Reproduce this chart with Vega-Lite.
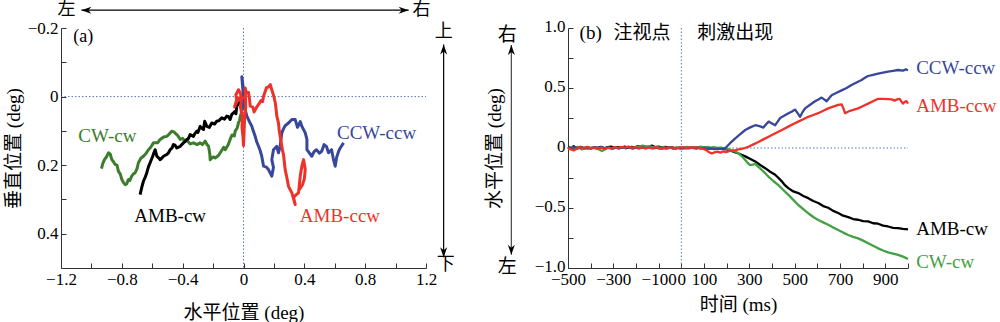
{
"$schema": "https://vega.github.io/schema/vega-lite/v6.json",
"background": "white",
"padding": {"left": 4, "top": 1, "right": 0, "bottom": 0},
"config": {
  "view": {"stroke": null},
  "font": "'Liberation Serif', 'Times New Roman', serif, 'Noto Sans CJK SC'",
  "text": {"font": "'Liberation Serif', 'Times New Roman', serif, 'Noto Sans CJK SC'"},
  "axis": {"grid": false, "labelFont": "'Liberation Serif', 'Times New Roman', serif, 'Noto Sans CJK SC'", "titleFont": "'Liberation Serif', 'Times New Roman', serif, 'Noto Sans CJK SC'", "domainColor": "#333", "tickColor": "#333", "domainWidth": 1, "tickWidth": 1, "tickSize": -5, "labelFontSize": 17, "titleFontSize": 19, "titleFontWeight": "normal", "labelColor": "#000", "titleColor": "#000", "labelOverlap": false, "labelFlush": false, "labelPadding": 8}
},
"resolve": {"scale": {"color": "independent", "shape": "independent"}},
"spacing": 142,
"bounds": "flush",
"datasets": {
  "refA": [{"x": 0, "y": -0.2, "x2": 0, "y2": 0.5}, {"x": -1.2, "y": 0, "x2": 1.2, "y2": 0}],
  "arrowA": [{"x": -1.066, "y": -0.252, "x2": 1.086, "y2": -0.252}, {"x": 1.316, "y": -0.152, "x2": 1.316, "y2": 0.469}],
  "headA": [{"x": -1.066, "y": -0.252, "d": "l"}, {"x": 1.086, "y": -0.252, "d": "r"}, {"x": 1.316, "y": -0.152, "d": "u"}, {"x": 1.316, "y": 0.469, "d": "d"}],
  "txtA": [{"x": -1.053, "y": -0.175, "txt": "(a)"}, {"x": -1.164, "y": -0.252, "txt": "左"}, {"x": 1.17, "y": -0.252, "txt": "右"}, {"x": 1.316, "y": -0.187, "txt": "上"}, {"x": 1.33, "y": 0.49, "txt": "下"}],
  "labA": [{"s": "CW-cw", "x": -0.895, "y": 0.116}, {"s": "CCW-ccw", "x": 0.875, "y": 0.106}, {"s": "AMB-cw", "x": -0.482, "y": 0.349}, {"s": "AMB-ccw", "x": 0.634, "y": 0.349}],
  "trajA": [
    {"s": "CW-cw", "i": 0, "x": 0, "y": 0}, {"s": "CW-cw", "i": 1, "x": -0.006, "y": 0.012}, {"s": "CW-cw", "i": 2, "x": -0.013, "y": 0.023}, {"s": "CW-cw", "i": 3, "x": -0.01, "y": 0.04}, {"s": "CW-cw", "i": 4, "x": -0.022, "y": 0.061}, {"s": "CW-cw", "i": 5, "x": -0.026, "y": 0.07}, {"s": "CW-cw", "i": 6, "x": -0.033, "y": 0.076}, {"s": "CW-cw", "i": 7, "x": -0.04, "y": 0.09}, {"s": "CW-cw", "i": 8, "x": -0.055, "y": 0.101}, {"s": "CW-cw", "i": 9, "x": -0.06, "y": 0.115}, {"s": "CW-cw", "i": 10, "x": -0.075, "y": 0.112}, {"s": "CW-cw", "i": 11, "x": -0.088, "y": 0.125}, {"s": "CW-cw", "i": 12, "x": -0.1, "y": 0.14}, {"s": "CW-cw", "i": 13, "x": -0.12, "y": 0.155}, {"s": "CW-cw", "i": 14, "x": -0.13, "y": 0.148}, {"s": "CW-cw", "i": 15, "x": -0.153, "y": 0.164}, {"s": "CW-cw", "i": 16, "x": -0.165, "y": 0.172}, {"s": "CW-cw", "i": 17, "x": -0.186, "y": 0.179}, {"s": "CW-cw", "i": 18, "x": -0.2, "y": 0.176}, {"s": "CW-cw", "i": 19, "x": -0.219, "y": 0.184}, {"s": "CW-cw", "i": 20, "x": -0.222, "y": 0.165}, {"s": "CW-cw", "i": 21, "x": -0.23, "y": 0.145}, {"s": "CW-cw", "i": 22, "x": -0.24, "y": 0.14}, {"s": "CW-cw", "i": 23, "x": -0.252, "y": 0.13}, {"s": "CW-cw", "i": 24, "x": -0.27, "y": 0.14}, {"s": "CW-cw", "i": 25, "x": -0.285, "y": 0.135}, {"s": "CW-cw", "i": 26, "x": -0.305, "y": 0.14}, {"s": "CW-cw", "i": 27, "x": -0.329, "y": 0.135}, {"s": "CW-cw", "i": 28, "x": -0.35, "y": 0.138}, {"s": "CW-cw", "i": 29, "x": -0.37, "y": 0.128}, {"s": "CW-cw", "i": 30, "x": -0.384, "y": 0.13}, {"s": "CW-cw", "i": 31, "x": -0.4, "y": 0.122}, {"s": "CW-cw", "i": 32, "x": -0.416, "y": 0.125}, {"s": "CW-cw", "i": 33, "x": -0.43, "y": 0.115}, {"s": "CW-cw", "i": 34, "x": -0.439, "y": 0.111}, {"s": "CW-cw", "i": 35, "x": -0.455, "y": 0.104}, {"s": "CW-cw", "i": 36, "x": -0.472, "y": 0.101}, {"s": "CW-cw", "i": 37, "x": -0.49, "y": 0.11}, {"s": "CW-cw", "i": 38, "x": -0.505, "y": 0.116}, {"s": "CW-cw", "i": 39, "x": -0.525, "y": 0.118}, {"s": "CW-cw", "i": 40, "x": -0.548, "y": 0.125}, {"s": "CW-cw", "i": 41, "x": -0.565, "y": 0.135}, {"s": "CW-cw", "i": 42, "x": -0.592, "y": 0.135}, {"s": "CW-cw", "i": 43, "x": -0.61, "y": 0.148}, {"s": "CW-cw", "i": 44, "x": -0.625, "y": 0.155}, {"s": "CW-cw", "i": 45, "x": -0.64, "y": 0.165}, {"s": "CW-cw", "i": 46, "x": -0.658, "y": 0.174}, {"s": "CW-cw", "i": 47, "x": -0.675, "y": 0.18}, {"s": "CW-cw", "i": 48, "x": -0.691, "y": 0.193}, {"s": "CW-cw", "i": 49, "x": -0.7, "y": 0.21}, {"s": "CW-cw", "i": 50, "x": -0.712, "y": 0.222}, {"s": "CW-cw", "i": 51, "x": -0.725, "y": 0.226}, {"s": "CW-cw", "i": 52, "x": -0.735, "y": 0.232}, {"s": "CW-cw", "i": 53, "x": -0.748, "y": 0.245}, {"s": "CW-cw", "i": 54, "x": -0.757, "y": 0.242}, {"s": "CW-cw", "i": 55, "x": -0.768, "y": 0.255}, {"s": "CW-cw", "i": 56, "x": -0.778, "y": 0.257}, {"s": "CW-cw", "i": 57, "x": -0.79, "y": 0.25}, {"s": "CW-cw", "i": 58, "x": -0.8, "y": 0.242}, {"s": "CW-cw", "i": 59, "x": -0.81, "y": 0.226}, {"s": "CW-cw", "i": 60, "x": -0.822, "y": 0.218}, {"s": "CW-cw", "i": 61, "x": -0.832, "y": 0.2}, {"s": "CW-cw", "i": 62, "x": -0.844, "y": 0.198}, {"s": "CW-cw", "i": 63, "x": -0.855, "y": 0.19}, {"s": "CW-cw", "i": 64, "x": -0.866, "y": 0.184}, {"s": "CW-cw", "i": 65, "x": -0.876, "y": 0.168}, {"s": "CW-cw", "i": 66, "x": -0.888, "y": 0.164}, {"s": "CW-cw", "i": 67, "x": -0.9, "y": 0.175}, {"s": "CW-cw", "i": 68, "x": -0.914, "y": 0.184}, {"s": "CW-cw", "i": 69, "x": -0.925, "y": 0.195}, {"s": "CW-cw", "i": 70, "x": -0.934, "y": 0.21},
    {"s": "AMB-cw", "i": 0, "x": 0, "y": 0}, {"s": "AMB-cw", "i": 1, "x": -0.012, "y": 0.01}, {"s": "AMB-cw", "i": 2, "x": -0.026, "y": 0.017}, {"s": "AMB-cw", "i": 3, "x": -0.044, "y": 0.028}, {"s": "AMB-cw", "i": 4, "x": -0.05, "y": 0.05}, {"s": "AMB-cw", "i": 5, "x": -0.055, "y": 0.043}, {"s": "AMB-cw", "i": 6, "x": -0.077, "y": 0.052}, {"s": "AMB-cw", "i": 7, "x": -0.088, "y": 0.067}, {"s": "AMB-cw", "i": 8, "x": -0.1, "y": 0.058}, {"s": "AMB-cw", "i": 9, "x": -0.11, "y": 0.057}, {"s": "AMB-cw", "i": 10, "x": -0.125, "y": 0.066}, {"s": "AMB-cw", "i": 11, "x": -0.143, "y": 0.062}, {"s": "AMB-cw", "i": 12, "x": -0.16, "y": 0.07}, {"s": "AMB-cw", "i": 13, "x": -0.176, "y": 0.072}, {"s": "AMB-cw", "i": 14, "x": -0.19, "y": 0.08}, {"s": "AMB-cw", "i": 15, "x": -0.209, "y": 0.077}, {"s": "AMB-cw", "i": 16, "x": -0.225, "y": 0.09}, {"s": "AMB-cw", "i": 17, "x": -0.241, "y": 0.087}, {"s": "AMB-cw", "i": 18, "x": -0.255, "y": 0.072}, {"s": "AMB-cw", "i": 19, "x": -0.263, "y": 0.096}, {"s": "AMB-cw", "i": 20, "x": -0.275, "y": 0.092}, {"s": "AMB-cw", "i": 21, "x": -0.285, "y": 0.087}, {"s": "AMB-cw", "i": 22, "x": -0.3, "y": 0.105}, {"s": "AMB-cw", "i": 23, "x": -0.307, "y": 0.101}, {"s": "AMB-cw", "i": 24, "x": -0.32, "y": 0.108}, {"s": "AMB-cw", "i": 25, "x": -0.329, "y": 0.116}, {"s": "AMB-cw", "i": 26, "x": -0.351, "y": 0.111}, {"s": "AMB-cw", "i": 27, "x": -0.362, "y": 0.122}, {"s": "AMB-cw", "i": 28, "x": -0.373, "y": 0.125}, {"s": "AMB-cw", "i": 29, "x": -0.385, "y": 0.132}, {"s": "AMB-cw", "i": 30, "x": -0.395, "y": 0.135}, {"s": "AMB-cw", "i": 31, "x": -0.416, "y": 0.145}, {"s": "AMB-cw", "i": 32, "x": -0.439, "y": 0.15}, {"s": "AMB-cw", "i": 33, "x": -0.45, "y": 0.142}, {"s": "AMB-cw", "i": 34, "x": -0.461, "y": 0.14}, {"s": "AMB-cw", "i": 35, "x": -0.47, "y": 0.15}, {"s": "AMB-cw", "i": 36, "x": -0.482, "y": 0.155}, {"s": "AMB-cw", "i": 37, "x": -0.495, "y": 0.165}, {"s": "AMB-cw", "i": 38, "x": -0.505, "y": 0.169}, {"s": "AMB-cw", "i": 39, "x": -0.526, "y": 0.174}, {"s": "AMB-cw", "i": 40, "x": -0.538, "y": 0.18}, {"s": "AMB-cw", "i": 41, "x": -0.548, "y": 0.184}, {"s": "AMB-cw", "i": 42, "x": -0.56, "y": 0.178}, {"s": "AMB-cw", "i": 43, "x": -0.57, "y": 0.174}, {"s": "AMB-cw", "i": 44, "x": -0.581, "y": 0.155}, {"s": "AMB-cw", "i": 45, "x": -0.59, "y": 0.165}, {"s": "AMB-cw", "i": 46, "x": -0.597, "y": 0.174}, {"s": "AMB-cw", "i": 47, "x": -0.614, "y": 0.193}, {"s": "AMB-cw", "i": 48, "x": -0.625, "y": 0.205}, {"s": "AMB-cw", "i": 49, "x": -0.636, "y": 0.222}, {"s": "AMB-cw", "i": 50, "x": -0.646, "y": 0.235}, {"s": "AMB-cw", "i": 51, "x": -0.658, "y": 0.247}, {"s": "AMB-cw", "i": 52, "x": -0.669, "y": 0.265}, {"s": "AMB-cw", "i": 53, "x": -0.68, "y": 0.286},
    {"s": "CCW-ccw", "i": 0, "x": 0, "y": 0}, {"s": "CCW-ccw", "i": 1, "x": -0.007, "y": -0.035}, {"s": "CCW-ccw", "i": 2, "x": -0.011, "y": -0.058}, {"s": "CCW-ccw", "i": 3, "x": 0, "y": -0.02}, {"s": "CCW-ccw", "i": 4, "x": 0.003, "y": 0.01}, {"s": "CCW-ccw", "i": 5, "x": 0, "y": 0.028}, {"s": "CCW-ccw", "i": 6, "x": 0.012, "y": 0.04}, {"s": "CCW-ccw", "i": 7, "x": 0.022, "y": 0.057}, {"s": "CCW-ccw", "i": 8, "x": 0.039, "y": 0.073}, {"s": "CCW-ccw", "i": 9, "x": 0.055, "y": 0.087}, {"s": "CCW-ccw", "i": 10, "x": 0.064, "y": 0.1}, {"s": "CCW-ccw", "i": 11, "x": 0.077, "y": 0.116}, {"s": "CCW-ccw", "i": 12, "x": 0.086, "y": 0.131}, {"s": "CCW-ccw", "i": 13, "x": 0.099, "y": 0.145}, {"s": "CCW-ccw", "i": 14, "x": 0.11, "y": 0.158}, {"s": "CCW-ccw", "i": 15, "x": 0.12, "y": 0.174}, {"s": "CCW-ccw", "i": 16, "x": 0.132, "y": 0.203}, {"s": "CCW-ccw", "i": 17, "x": 0.148, "y": 0.205}, {"s": "CCW-ccw", "i": 18, "x": 0.164, "y": 0.213}, {"s": "CCW-ccw", "i": 19, "x": 0.186, "y": 0.232}, {"s": "CCW-ccw", "i": 20, "x": 0.197, "y": 0.207}, {"s": "CCW-ccw", "i": 21, "x": 0.186, "y": 0.184}, {"s": "CCW-ccw", "i": 22, "x": 0.197, "y": 0.155}, {"s": "CCW-ccw", "i": 23, "x": 0.219, "y": 0.145}, {"s": "CCW-ccw", "i": 24, "x": 0.23, "y": 0.164}, {"s": "CCW-ccw", "i": 25, "x": 0.241, "y": 0.145}, {"s": "CCW-ccw", "i": 26, "x": 0.252, "y": 0.106}, {"s": "CCW-ccw", "i": 27, "x": 0.262, "y": 0.095}, {"s": "CCW-ccw", "i": 28, "x": 0.274, "y": 0.085}, {"s": "CCW-ccw", "i": 29, "x": 0.296, "y": 0.077}, {"s": "CCW-ccw", "i": 30, "x": 0.318, "y": 0.067}, {"s": "CCW-ccw", "i": 31, "x": 0.34, "y": 0.067}, {"s": "CCW-ccw", "i": 32, "x": 0.355, "y": 0.09}, {"s": "CCW-ccw", "i": 33, "x": 0.373, "y": 0.073}, {"s": "CCW-ccw", "i": 34, "x": 0.384, "y": 0.087}, {"s": "CCW-ccw", "i": 35, "x": 0.406, "y": 0.106}, {"s": "CCW-ccw", "i": 36, "x": 0.417, "y": 0.125}, {"s": "CCW-ccw", "i": 37, "x": 0.417, "y": 0.155}, {"s": "CCW-ccw", "i": 38, "x": 0.449, "y": 0.174}, {"s": "CCW-ccw", "i": 39, "x": 0.465, "y": 0.16}, {"s": "CCW-ccw", "i": 40, "x": 0.48, "y": 0.155}, {"s": "CCW-ccw", "i": 41, "x": 0.5, "y": 0.165}, {"s": "CCW-ccw", "i": 42, "x": 0.515, "y": 0.159}, {"s": "CCW-ccw", "i": 43, "x": 0.53, "y": 0.14}, {"s": "CCW-ccw", "i": 44, "x": 0.546, "y": 0.146}, {"s": "CCW-ccw", "i": 45, "x": 0.559, "y": 0.164}, {"s": "CCW-ccw", "i": 46, "x": 0.579, "y": 0.155}, {"s": "CCW-ccw", "i": 47, "x": 0.59, "y": 0.18}, {"s": "CCW-ccw", "i": 48, "x": 0.603, "y": 0.203}, {"s": "CCW-ccw", "i": 49, "x": 0.612, "y": 0.178}, {"s": "CCW-ccw", "i": 50, "x": 0.625, "y": 0.16}, {"s": "CCW-ccw", "i": 51, "x": 0.636, "y": 0.15}, {"s": "CCW-ccw", "i": 52, "x": 0.658, "y": 0.135},
    {"s": "AMB-ccw", "i": 0, "x": 0, "y": 0}, {"s": "AMB-ccw", "i": 1, "x": -0.02, "y": 0.012}, {"s": "AMB-ccw", "i": 2, "x": -0.035, "y": 0.004}, {"s": "AMB-ccw", "i": 3, "x": -0.05, "y": 0.02}, {"s": "AMB-ccw", "i": 4, "x": -0.059, "y": 0.03}, {"s": "AMB-ccw", "i": 5, "x": -0.045, "y": 0.01}, {"s": "AMB-ccw", "i": 6, "x": -0.05, "y": -0.005}, {"s": "AMB-ccw", "i": 7, "x": -0.033, "y": -0.02}, {"s": "AMB-ccw", "i": 8, "x": -0.02, "y": -0.01}, {"s": "AMB-ccw", "i": 9, "x": -0.013, "y": 0.009}, {"s": "AMB-ccw", "i": 10, "x": -0.02, "y": 0.03}, {"s": "AMB-ccw", "i": 11, "x": -0.007, "y": 0.06}, {"s": "AMB-ccw", "i": 12, "x": -0.01, "y": 0.09}, {"s": "AMB-ccw", "i": 13, "x": -0.003, "y": 0.12}, {"s": "AMB-ccw", "i": 14, "x": 0, "y": 0.143}, {"s": "AMB-ccw", "i": 15, "x": 0.004, "y": 0.1}, {"s": "AMB-ccw", "i": 16, "x": 0.007, "y": 0.067}, {"s": "AMB-ccw", "i": 17, "x": 0.015, "y": 0.03}, {"s": "AMB-ccw", "i": 18, "x": 0.011, "y": -0.025}, {"s": "AMB-ccw", "i": 19, "x": 0.02, "y": -0.01}, {"s": "AMB-ccw", "i": 20, "x": 0.033, "y": -0.012}, {"s": "AMB-ccw", "i": 21, "x": 0.04, "y": 0.01}, {"s": "AMB-ccw", "i": 22, "x": 0.044, "y": 0.028}, {"s": "AMB-ccw", "i": 23, "x": 0.06, "y": 0.03}, {"s": "AMB-ccw", "i": 24, "x": 0.07, "y": 0.045}, {"s": "AMB-ccw", "i": 25, "x": 0.077, "y": 0.038}, {"s": "AMB-ccw", "i": 26, "x": 0.088, "y": 0.03}, {"s": "AMB-ccw", "i": 27, "x": 0.099, "y": 0.023}, {"s": "AMB-ccw", "i": 28, "x": 0.115, "y": 0.012}, {"s": "AMB-ccw", "i": 29, "x": 0.125, "y": 0.015}, {"s": "AMB-ccw", "i": 30, "x": 0.132, "y": -0.001}, {"s": "AMB-ccw", "i": 31, "x": 0.151, "y": -0.026}, {"s": "AMB-ccw", "i": 32, "x": 0.165, "y": -0.028}, {"s": "AMB-ccw", "i": 33, "x": 0.176, "y": -0.035}, {"s": "AMB-ccw", "i": 34, "x": 0.186, "y": -0.02}, {"s": "AMB-ccw", "i": 35, "x": 0.2, "y": 0.0}, {"s": "AMB-ccw", "i": 36, "x": 0.209, "y": 0.018}, {"s": "AMB-ccw", "i": 37, "x": 0.215, "y": 0.04}, {"s": "AMB-ccw", "i": 38, "x": 0.219, "y": 0.057}, {"s": "AMB-ccw", "i": 39, "x": 0.23, "y": 0.077}, {"s": "AMB-ccw", "i": 40, "x": 0.235, "y": 0.1}, {"s": "AMB-ccw", "i": 41, "x": 0.241, "y": 0.116}, {"s": "AMB-ccw", "i": 42, "x": 0.252, "y": 0.145}, {"s": "AMB-ccw", "i": 43, "x": 0.258, "y": 0.16}, {"s": "AMB-ccw", "i": 44, "x": 0.263, "y": 0.169}, {"s": "AMB-ccw", "i": 45, "x": 0.274, "y": 0.213}, {"s": "AMB-ccw", "i": 46, "x": 0.285, "y": 0.236}, {"s": "AMB-ccw", "i": 47, "x": 0.296, "y": 0.262}, {"s": "AMB-ccw", "i": 48, "x": 0.305, "y": 0.27}, {"s": "AMB-ccw", "i": 49, "x": 0.318, "y": 0.281}, {"s": "AMB-ccw", "i": 50, "x": 0.33, "y": 0.3}, {"s": "AMB-ccw", "i": 51, "x": 0.34, "y": 0.315}, {"s": "AMB-ccw", "i": 52, "x": 0.329, "y": 0.294}, {"s": "AMB-ccw", "i": 53, "x": 0.35, "y": 0.285}, {"s": "AMB-ccw", "i": 54, "x": 0.362, "y": 0.281}, {"s": "AMB-ccw", "i": 55, "x": 0.373, "y": 0.232}, {"s": "AMB-ccw", "i": 56, "x": 0.385, "y": 0.2}, {"s": "AMB-ccw", "i": 57, "x": 0.395, "y": 0.184}, {"s": "AMB-ccw", "i": 58, "x": 0.406, "y": 0.213}, {"s": "AMB-ccw", "i": 59, "x": 0.4, "y": 0.24}, {"s": "AMB-ccw", "i": 60, "x": 0.388, "y": 0.257}, {"s": "AMB-ccw", "i": 61, "x": 0.368, "y": 0.271}
  ],
  "refB": [{"t": 0, "v": 1, "t2": 0, "v2": -1}, {"t": -500, "v": 0, "t2": 1000, "v2": 0}],
  "arrowB": [{"t": -750, "v": 0.858, "t2": -750, "v2": -0.89}],
  "headB": [{"t": -750, "v": 0.858, "d": "u"}, {"t": -750, "v": -0.89, "d": "d"}],
  "txtB": [{"t": -400, "v": 0.958, "txt": "(b)"}, {"t": -173, "v": 0.958, "txt": "注视点"}, {"t": 238, "v": 0.958, "txt": "刺激出现"}, {"t": -768, "v": 0.94, "txt": "右"}, {"t": -768, "v": -0.99, "txt": "左"}],
  "labB": [{"s": "CCW-ccw", "t": 1036, "v": 0.667}, {"s": "AMB-ccw", "t": 1036, "v": 0.35}, {"s": "AMB-cw", "t": 1036, "v": -0.675}, {"s": "CW-cw", "t": 1036, "v": -0.95}],
  "seriesB": [
    {"s": "AMB-cw", "t": -500, "v": 0.01}, {"s": "AMB-cw", "t": -490, "v": 0.0}, {"s": "AMB-cw", "t": -475, "v": 0.015}, {"s": "AMB-cw", "t": -460, "v": -0.005}, {"s": "AMB-cw", "t": -445, "v": 0.01}, {"s": "AMB-cw", "t": -430, "v": 0.0}, {"s": "AMB-cw", "t": -415, "v": 0.008}, {"s": "AMB-cw", "t": -400, "v": -0.004}, {"s": "AMB-cw", "t": -385, "v": 0.006}, {"s": "AMB-cw", "t": -370, "v": 0.0}, {"s": "AMB-cw", "t": -355, "v": 0.01}, {"s": "AMB-cw", "t": -340, "v": -0.003}, {"s": "AMB-cw", "t": -325, "v": 0.007}, {"s": "AMB-cw", "t": -310, "v": 0.012}, {"s": "AMB-cw", "t": -295, "v": 0.0}, {"s": "AMB-cw", "t": -280, "v": 0.008}, {"s": "AMB-cw", "t": -265, "v": 0.004}, {"s": "AMB-cw", "t": -250, "v": 0.012}, {"s": "AMB-cw", "t": -235, "v": 0.002}, {"s": "AMB-cw", "t": -220, "v": 0.01}, {"s": "AMB-cw", "t": -205, "v": 0.005}, {"s": "AMB-cw", "t": -190, "v": 0.015}, {"s": "AMB-cw", "t": -175, "v": 0.006}, {"s": "AMB-cw", "t": -160, "v": 0.012}, {"s": "AMB-cw", "t": -145, "v": 0.008}, {"s": "AMB-cw", "t": -130, "v": 0.02}, {"s": "AMB-cw", "t": -115, "v": 0.006}, {"s": "AMB-cw", "t": -100, "v": 0.012}, {"s": "AMB-cw", "t": -85, "v": 0.004}, {"s": "AMB-cw", "t": -70, "v": 0.01}, {"s": "AMB-cw", "t": -55, "v": 0.002}, {"s": "AMB-cw", "t": -40, "v": 0.006}, {"s": "AMB-cw", "t": -25, "v": -0.004}, {"s": "AMB-cw", "t": -10, "v": 0.004}, {"s": "AMB-cw", "t": 5, "v": 0.0}, {"s": "AMB-cw", "t": 20, "v": 0.006}, {"s": "AMB-cw", "t": 35, "v": -0.002}, {"s": "AMB-cw", "t": 50, "v": 0.004}, {"s": "AMB-cw", "t": 65, "v": -0.004}, {"s": "AMB-cw", "t": 80, "v": 0.002}, {"s": "AMB-cw", "t": 95, "v": -0.002}, {"s": "AMB-cw", "t": 110, "v": 0.003}, {"s": "AMB-cw", "t": 125, "v": -0.005}, {"s": "AMB-cw", "t": 140, "v": 0.0}, {"s": "AMB-cw", "t": 155, "v": -0.006}, {"s": "AMB-cw", "t": 170, "v": -0.002}, {"s": "AMB-cw", "t": 185, "v": -0.008}, {"s": "AMB-cw", "t": 200, "v": -0.012}, {"s": "AMB-cw", "t": 215, "v": -0.02}, {"s": "AMB-cw", "t": 230, "v": -0.03}, {"s": "AMB-cw", "t": 245, "v": -0.04}, {"s": "AMB-cw", "t": 260, "v": -0.052}, {"s": "AMB-cw", "t": 282, "v": -0.07}, {"s": "AMB-cw", "t": 305, "v": -0.092}, {"s": "AMB-cw", "t": 326, "v": -0.112}, {"s": "AMB-cw", "t": 348, "v": -0.142}, {"s": "AMB-cw", "t": 370, "v": -0.168}, {"s": "AMB-cw", "t": 392, "v": -0.198}, {"s": "AMB-cw", "t": 414, "v": -0.223}, {"s": "AMB-cw", "t": 430, "v": -0.252}, {"s": "AMB-cw", "t": 443, "v": -0.278}, {"s": "AMB-cw", "t": 458, "v": -0.312}, {"s": "AMB-cw", "t": 472, "v": -0.334}, {"s": "AMB-cw", "t": 494, "v": -0.362}, {"s": "AMB-cw", "t": 516, "v": -0.376}, {"s": "AMB-cw", "t": 538, "v": -0.4}, {"s": "AMB-cw", "t": 560, "v": -0.418}, {"s": "AMB-cw", "t": 582, "v": -0.442}, {"s": "AMB-cw", "t": 604, "v": -0.458}, {"s": "AMB-cw", "t": 626, "v": -0.484}, {"s": "AMB-cw", "t": 648, "v": -0.498}, {"s": "AMB-cw", "t": 670, "v": -0.524}, {"s": "AMB-cw", "t": 692, "v": -0.542}, {"s": "AMB-cw", "t": 714, "v": -0.564}, {"s": "AMB-cw", "t": 736, "v": -0.576}, {"s": "AMB-cw", "t": 758, "v": -0.592}, {"s": "AMB-cw", "t": 780, "v": -0.598}, {"s": "AMB-cw", "t": 802, "v": -0.609}, {"s": "AMB-cw", "t": 824, "v": -0.612}, {"s": "AMB-cw", "t": 846, "v": -0.627}, {"s": "AMB-cw", "t": 868, "v": -0.631}, {"s": "AMB-cw", "t": 890, "v": -0.647}, {"s": "AMB-cw", "t": 912, "v": -0.654}, {"s": "AMB-cw", "t": 934, "v": -0.666}, {"s": "AMB-cw", "t": 956, "v": -0.668}, {"s": "AMB-cw", "t": 978, "v": -0.674}, {"s": "AMB-cw", "t": 1000, "v": -0.678},
    {"s": "CW-cw", "t": -500, "v": -0.01}, {"s": "CW-cw", "t": -485, "v": 0.008}, {"s": "CW-cw", "t": -470, "v": -0.005}, {"s": "CW-cw", "t": -455, "v": 0.01}, {"s": "CW-cw", "t": -440, "v": -0.012}, {"s": "CW-cw", "t": -425, "v": 0.004}, {"s": "CW-cw", "t": -410, "v": -0.008}, {"s": "CW-cw", "t": -395, "v": 0.006}, {"s": "CW-cw", "t": -380, "v": -0.004}, {"s": "CW-cw", "t": -365, "v": -0.01}, {"s": "CW-cw", "t": -350, "v": -0.025}, {"s": "CW-cw", "t": -335, "v": -0.008}, {"s": "CW-cw", "t": -320, "v": 0.004}, {"s": "CW-cw", "t": -305, "v": -0.006}, {"s": "CW-cw", "t": -290, "v": 0.006}, {"s": "CW-cw", "t": -275, "v": -0.004}, {"s": "CW-cw", "t": -260, "v": 0.008}, {"s": "CW-cw", "t": -245, "v": -0.002}, {"s": "CW-cw", "t": -230, "v": 0.01}, {"s": "CW-cw", "t": -215, "v": 0.0}, {"s": "CW-cw", "t": -200, "v": 0.008}, {"s": "CW-cw", "t": -185, "v": 0.014}, {"s": "CW-cw", "t": -170, "v": 0.02}, {"s": "CW-cw", "t": -155, "v": 0.01}, {"s": "CW-cw", "t": -140, "v": 0.016}, {"s": "CW-cw", "t": -125, "v": 0.006}, {"s": "CW-cw", "t": -110, "v": 0.012}, {"s": "CW-cw", "t": -95, "v": 0.002}, {"s": "CW-cw", "t": -80, "v": 0.008}, {"s": "CW-cw", "t": -65, "v": -0.004}, {"s": "CW-cw", "t": -50, "v": 0.006}, {"s": "CW-cw", "t": -35, "v": -0.008}, {"s": "CW-cw", "t": -20, "v": 0.004}, {"s": "CW-cw", "t": -5, "v": -0.002}, {"s": "CW-cw", "t": 10, "v": 0.006}, {"s": "CW-cw", "t": 25, "v": 0.01}, {"s": "CW-cw", "t": 40, "v": 0.002}, {"s": "CW-cw", "t": 55, "v": 0.008}, {"s": "CW-cw", "t": 70, "v": 0.004}, {"s": "CW-cw", "t": 85, "v": 0.012}, {"s": "CW-cw", "t": 100, "v": 0.006}, {"s": "CW-cw", "t": 115, "v": 0.01}, {"s": "CW-cw", "t": 130, "v": 0.004}, {"s": "CW-cw", "t": 145, "v": 0.008}, {"s": "CW-cw", "t": 160, "v": 0.0}, {"s": "CW-cw", "t": 175, "v": 0.004}, {"s": "CW-cw", "t": 190, "v": -0.004}, {"s": "CW-cw", "t": 205, "v": -0.008}, {"s": "CW-cw", "t": 220, "v": -0.018}, {"s": "CW-cw", "t": 238, "v": -0.03}, {"s": "CW-cw", "t": 255, "v": -0.05}, {"s": "CW-cw", "t": 270, "v": -0.075}, {"s": "CW-cw", "t": 282, "v": -0.1}, {"s": "CW-cw", "t": 293, "v": -0.125}, {"s": "CW-cw", "t": 304, "v": -0.142}, {"s": "CW-cw", "t": 315, "v": -0.138}, {"s": "CW-cw", "t": 326, "v": -0.133}, {"s": "CW-cw", "t": 340, "v": -0.158}, {"s": "CW-cw", "t": 355, "v": -0.183}, {"s": "CW-cw", "t": 370, "v": -0.21}, {"s": "CW-cw", "t": 385, "v": -0.24}, {"s": "CW-cw", "t": 406, "v": -0.275}, {"s": "CW-cw", "t": 428, "v": -0.31}, {"s": "CW-cw", "t": 450, "v": -0.35}, {"s": "CW-cw", "t": 472, "v": -0.39}, {"s": "CW-cw", "t": 494, "v": -0.432}, {"s": "CW-cw", "t": 516, "v": -0.475}, {"s": "CW-cw", "t": 538, "v": -0.51}, {"s": "CW-cw", "t": 560, "v": -0.544}, {"s": "CW-cw", "t": 582, "v": -0.575}, {"s": "CW-cw", "t": 604, "v": -0.6}, {"s": "CW-cw", "t": 626, "v": -0.62}, {"s": "CW-cw", "t": 648, "v": -0.64}, {"s": "CW-cw", "t": 670, "v": -0.662}, {"s": "CW-cw", "t": 692, "v": -0.683}, {"s": "CW-cw", "t": 714, "v": -0.705}, {"s": "CW-cw", "t": 736, "v": -0.725}, {"s": "CW-cw", "t": 758, "v": -0.74}, {"s": "CW-cw", "t": 780, "v": -0.753}, {"s": "CW-cw", "t": 802, "v": -0.772}, {"s": "CW-cw", "t": 824, "v": -0.794}, {"s": "CW-cw", "t": 846, "v": -0.815}, {"s": "CW-cw", "t": 868, "v": -0.836}, {"s": "CW-cw", "t": 890, "v": -0.854}, {"s": "CW-cw", "t": 912, "v": -0.87}, {"s": "CW-cw", "t": 934, "v": -0.88}, {"s": "CW-cw", "t": 956, "v": -0.89}, {"s": "CW-cw", "t": 978, "v": -0.905}, {"s": "CW-cw", "t": 1000, "v": -0.925},
    {"s": "CCW-ccw", "t": -500, "v": 0.005}, {"s": "CCW-ccw", "t": -485, "v": -0.004}, {"s": "CCW-ccw", "t": -470, "v": 0.008}, {"s": "CCW-ccw", "t": -455, "v": -0.002}, {"s": "CCW-ccw", "t": -440, "v": 0.006}, {"s": "CCW-ccw", "t": -425, "v": -0.005}, {"s": "CCW-ccw", "t": -410, "v": 0.004}, {"s": "CCW-ccw", "t": -395, "v": -0.003}, {"s": "CCW-ccw", "t": -380, "v": 0.006}, {"s": "CCW-ccw", "t": -365, "v": 0.0}, {"s": "CCW-ccw", "t": -350, "v": 0.008}, {"s": "CCW-ccw", "t": -335, "v": -0.004}, {"s": "CCW-ccw", "t": -320, "v": 0.005}, {"s": "CCW-ccw", "t": -305, "v": -0.006}, {"s": "CCW-ccw", "t": -290, "v": 0.003}, {"s": "CCW-ccw", "t": -275, "v": -0.004}, {"s": "CCW-ccw", "t": -260, "v": 0.006}, {"s": "CCW-ccw", "t": -245, "v": -0.002}, {"s": "CCW-ccw", "t": -230, "v": 0.004}, {"s": "CCW-ccw", "t": -215, "v": -0.006}, {"s": "CCW-ccw", "t": -200, "v": 0.002}, {"s": "CCW-ccw", "t": -185, "v": -0.004}, {"s": "CCW-ccw", "t": -170, "v": 0.006}, {"s": "CCW-ccw", "t": -155, "v": -0.002}, {"s": "CCW-ccw", "t": -140, "v": 0.004}, {"s": "CCW-ccw", "t": -125, "v": -0.004}, {"s": "CCW-ccw", "t": -110, "v": 0.002}, {"s": "CCW-ccw", "t": -95, "v": -0.006}, {"s": "CCW-ccw", "t": -80, "v": 0.0}, {"s": "CCW-ccw", "t": -65, "v": -0.004}, {"s": "CCW-ccw", "t": -50, "v": 0.004}, {"s": "CCW-ccw", "t": -35, "v": -0.002}, {"s": "CCW-ccw", "t": -20, "v": 0.002}, {"s": "CCW-ccw", "t": -5, "v": -0.006}, {"s": "CCW-ccw", "t": 10, "v": 0.0}, {"s": "CCW-ccw", "t": 25, "v": -0.004}, {"s": "CCW-ccw", "t": 40, "v": 0.004}, {"s": "CCW-ccw", "t": 55, "v": -0.002}, {"s": "CCW-ccw", "t": 70, "v": 0.006}, {"s": "CCW-ccw", "t": 85, "v": -0.004}, {"s": "CCW-ccw", "t": 100, "v": 0.002}, {"s": "CCW-ccw", "t": 115, "v": -0.008}, {"s": "CCW-ccw", "t": 130, "v": -0.004}, {"s": "CCW-ccw", "t": 145, "v": -0.01}, {"s": "CCW-ccw", "t": 160, "v": -0.006}, {"s": "CCW-ccw", "t": 175, "v": -0.008}, {"s": "CCW-ccw", "t": 190, "v": -0.004}, {"s": "CCW-ccw", "t": 200, "v": 0.01}, {"s": "CCW-ccw", "t": 215, "v": 0.04}, {"s": "CCW-ccw", "t": 238, "v": 0.08}, {"s": "CCW-ccw", "t": 260, "v": 0.115}, {"s": "CCW-ccw", "t": 282, "v": 0.15}, {"s": "CCW-ccw", "t": 304, "v": 0.172}, {"s": "CCW-ccw", "t": 326, "v": 0.19}, {"s": "CCW-ccw", "t": 345, "v": 0.182}, {"s": "CCW-ccw", "t": 362, "v": 0.17}, {"s": "CCW-ccw", "t": 375, "v": 0.2}, {"s": "CCW-ccw", "t": 385, "v": 0.22}, {"s": "CCW-ccw", "t": 400, "v": 0.205}, {"s": "CCW-ccw", "t": 414, "v": 0.19}, {"s": "CCW-ccw", "t": 425, "v": 0.22}, {"s": "CCW-ccw", "t": 436, "v": 0.25}, {"s": "CCW-ccw", "t": 455, "v": 0.27}, {"s": "CCW-ccw", "t": 473, "v": 0.29}, {"s": "CCW-ccw", "t": 488, "v": 0.305}, {"s": "CCW-ccw", "t": 502, "v": 0.32}, {"s": "CCW-ccw", "t": 513, "v": 0.29}, {"s": "CCW-ccw", "t": 524, "v": 0.26}, {"s": "CCW-ccw", "t": 535, "v": 0.3}, {"s": "CCW-ccw", "t": 546, "v": 0.33}, {"s": "CCW-ccw", "t": 568, "v": 0.36}, {"s": "CCW-ccw", "t": 590, "v": 0.39}, {"s": "CCW-ccw", "t": 605, "v": 0.405}, {"s": "CCW-ccw", "t": 619, "v": 0.42}, {"s": "CCW-ccw", "t": 630, "v": 0.405}, {"s": "CCW-ccw", "t": 641, "v": 0.39}, {"s": "CCW-ccw", "t": 652, "v": 0.415}, {"s": "CCW-ccw", "t": 663, "v": 0.44}, {"s": "CCW-ccw", "t": 685, "v": 0.46}, {"s": "CCW-ccw", "t": 707, "v": 0.48}, {"s": "CCW-ccw", "t": 729, "v": 0.5}, {"s": "CCW-ccw", "t": 751, "v": 0.525}, {"s": "CCW-ccw", "t": 773, "v": 0.546}, {"s": "CCW-ccw", "t": 795, "v": 0.567}, {"s": "CCW-ccw", "t": 810, "v": 0.585}, {"s": "CCW-ccw", "t": 824, "v": 0.6}, {"s": "CCW-ccw", "t": 846, "v": 0.61}, {"s": "CCW-ccw", "t": 868, "v": 0.62}, {"s": "CCW-ccw", "t": 890, "v": 0.628}, {"s": "CCW-ccw", "t": 912, "v": 0.636}, {"s": "CCW-ccw", "t": 934, "v": 0.643}, {"s": "CCW-ccw", "t": 956, "v": 0.65}, {"s": "CCW-ccw", "t": 978, "v": 0.645}, {"s": "CCW-ccw", "t": 990, "v": 0.655}, {"s": "CCW-ccw", "t": 1000, "v": 0.648},
    {"s": "AMB-ccw", "t": -500, "v": 0.0}, {"s": "AMB-ccw", "t": -490, "v": -0.01}, {"s": "AMB-ccw", "t": -475, "v": -0.02}, {"s": "AMB-ccw", "t": -460, "v": -0.005}, {"s": "AMB-ccw", "t": -445, "v": 0.008}, {"s": "AMB-ccw", "t": -430, "v": -0.004}, {"s": "AMB-ccw", "t": -415, "v": 0.01}, {"s": "AMB-ccw", "t": -400, "v": -0.002}, {"s": "AMB-ccw", "t": -385, "v": 0.006}, {"s": "AMB-ccw", "t": -370, "v": -0.006}, {"s": "AMB-ccw", "t": -355, "v": 0.004}, {"s": "AMB-ccw", "t": -340, "v": -0.008}, {"s": "AMB-ccw", "t": -325, "v": 0.002}, {"s": "AMB-ccw", "t": -310, "v": -0.004}, {"s": "AMB-ccw", "t": -295, "v": 0.008}, {"s": "AMB-ccw", "t": -280, "v": 0.0}, {"s": "AMB-ccw", "t": -265, "v": 0.01}, {"s": "AMB-ccw", "t": -250, "v": 0.004}, {"s": "AMB-ccw", "t": -235, "v": 0.012}, {"s": "AMB-ccw", "t": -220, "v": 0.002}, {"s": "AMB-ccw", "t": -205, "v": 0.008}, {"s": "AMB-ccw", "t": -190, "v": -0.002}, {"s": "AMB-ccw", "t": -175, "v": 0.006}, {"s": "AMB-ccw", "t": -160, "v": -0.004}, {"s": "AMB-ccw", "t": -145, "v": 0.004}, {"s": "AMB-ccw", "t": -130, "v": -0.002}, {"s": "AMB-ccw", "t": -115, "v": 0.008}, {"s": "AMB-ccw", "t": -100, "v": 0.0}, {"s": "AMB-ccw", "t": -85, "v": -0.006}, {"s": "AMB-ccw", "t": -70, "v": 0.004}, {"s": "AMB-ccw", "t": -55, "v": -0.002}, {"s": "AMB-ccw", "t": -40, "v": 0.006}, {"s": "AMB-ccw", "t": -25, "v": -0.004}, {"s": "AMB-ccw", "t": -10, "v": 0.002}, {"s": "AMB-ccw", "t": 5, "v": 0.008}, {"s": "AMB-ccw", "t": 20, "v": 0.0}, {"s": "AMB-ccw", "t": 35, "v": 0.006}, {"s": "AMB-ccw", "t": 50, "v": 0.002}, {"s": "AMB-ccw", "t": 65, "v": 0.008}, {"s": "AMB-ccw", "t": 80, "v": 0.0}, {"s": "AMB-ccw", "t": 95, "v": -0.006}, {"s": "AMB-ccw", "t": 110, "v": -0.018}, {"s": "AMB-ccw", "t": 122, "v": -0.035}, {"s": "AMB-ccw", "t": 135, "v": -0.045}, {"s": "AMB-ccw", "t": 148, "v": -0.035}, {"s": "AMB-ccw", "t": 160, "v": -0.03}, {"s": "AMB-ccw", "t": 172, "v": -0.038}, {"s": "AMB-ccw", "t": 185, "v": -0.028}, {"s": "AMB-ccw", "t": 198, "v": -0.034}, {"s": "AMB-ccw", "t": 210, "v": -0.026}, {"s": "AMB-ccw", "t": 225, "v": -0.022}, {"s": "AMB-ccw", "t": 240, "v": -0.018}, {"s": "AMB-ccw", "t": 252, "v": -0.012}, {"s": "AMB-ccw", "t": 265, "v": -0.008}, {"s": "AMB-ccw", "t": 280, "v": 0.0}, {"s": "AMB-ccw", "t": 296, "v": 0.01}, {"s": "AMB-ccw", "t": 318, "v": 0.03}, {"s": "AMB-ccw", "t": 340, "v": 0.05}, {"s": "AMB-ccw", "t": 362, "v": 0.072}, {"s": "AMB-ccw", "t": 385, "v": 0.094}, {"s": "AMB-ccw", "t": 406, "v": 0.115}, {"s": "AMB-ccw", "t": 428, "v": 0.136}, {"s": "AMB-ccw", "t": 450, "v": 0.157}, {"s": "AMB-ccw", "t": 472, "v": 0.178}, {"s": "AMB-ccw", "t": 494, "v": 0.2}, {"s": "AMB-ccw", "t": 516, "v": 0.22}, {"s": "AMB-ccw", "t": 538, "v": 0.24}, {"s": "AMB-ccw", "t": 560, "v": 0.26}, {"s": "AMB-ccw", "t": 582, "v": 0.275}, {"s": "AMB-ccw", "t": 604, "v": 0.29}, {"s": "AMB-ccw", "t": 626, "v": 0.31}, {"s": "AMB-ccw", "t": 648, "v": 0.33}, {"s": "AMB-ccw", "t": 670, "v": 0.345}, {"s": "AMB-ccw", "t": 692, "v": 0.36}, {"s": "AMB-ccw", "t": 707, "v": 0.364}, {"s": "AMB-ccw", "t": 715, "v": 0.33}, {"s": "AMB-ccw", "t": 722, "v": 0.29}, {"s": "AMB-ccw", "t": 733, "v": 0.3}, {"s": "AMB-ccw", "t": 744, "v": 0.31}, {"s": "AMB-ccw", "t": 762, "v": 0.32}, {"s": "AMB-ccw", "t": 780, "v": 0.33}, {"s": "AMB-ccw", "t": 802, "v": 0.35}, {"s": "AMB-ccw", "t": 824, "v": 0.37}, {"s": "AMB-ccw", "t": 846, "v": 0.39}, {"s": "AMB-ccw", "t": 868, "v": 0.41}, {"s": "AMB-ccw", "t": 890, "v": 0.41}, {"s": "AMB-ccw", "t": 912, "v": 0.408}, {"s": "AMB-ccw", "t": 928, "v": 0.405}, {"s": "AMB-ccw", "t": 941, "v": 0.395}, {"s": "AMB-ccw", "t": 952, "v": 0.405}, {"s": "AMB-ccw", "t": 963, "v": 0.41}, {"s": "AMB-ccw", "t": 970, "v": 0.39}, {"s": "AMB-ccw", "t": 978, "v": 0.37}, {"s": "AMB-ccw", "t": 986, "v": 0.385}, {"s": "AMB-ccw", "t": 993, "v": 0.39}, {"s": "AMB-ccw", "t": 1000, "v": 0.37}
  ]
},
"hconcat": [
  {
    "width": 365, "height": 240,
    "encoding": {
      "x": {"field": "x", "type": "quantitative", "scale": {"domain": [-1.2, 1.2], "nice": false, "zero": false},
            "axis": {"values": [-1.2, -1, -0.8, -0.6, -0.4, -0.2, 0, 0.2, 0.4, 0.6, 0.8, 1, 1.2], "labelExpr": "abs(round(datum.value*10))%4==0 ? (datum.value==0 ? '0' : format(datum.value,'.1f')) : ''", "title": "水平位置 (deg)", "titlePadding": 16}},
      "y": {"field": "y", "type": "quantitative", "scale": {"domain": [-0.2, 0.5], "nice": false, "zero": false, "reverse": true},
            "axis": {"values": [-0.2, -0.1, 0, 0.1, 0.2, 0.3, 0.4, 0.5], "labelExpr": "abs(round(datum.value*10))%2==0 && datum.value<0.45 ? (datum.value==0 ? '0' : format(datum.value,'.1f')) : ''", "title": "垂直位置 (deg)", "titlePadding": 4}}
    },
    "layer": [
      {"data": {"name": "refA"}, "mark": {"type": "rule", "strokeDash": [1.5, 2], "color": "#5a78c0", "strokeWidth": 1}, "encoding": {"x2": {"field": "x2"}, "y2": {"field": "y2"}}},
      {"data": {"name": "trajA"}, "mark": {"type": "line", "strokeWidth": 3, "strokeJoin": "round"},
       "encoding": {"color": {"field": "s", "type": "nominal", "scale": {"domain": ["CCW-ccw", "AMB-ccw", "AMB-cw", "CW-cw"], "range": ["#37479b", "#ee3229", "#000000", "#3b7d2b"]}, "legend": null}, "order": {"field": "i", "type": "quantitative"}}},
      {"data": {"name": "labA"}, "mark": {"type": "text", "fontSize": 19, "align": "center", "baseline": "middle"},
       "encoding": {"text": {"field": "s"}, "color": {"field": "s", "type": "nominal", "scale": {"domain": ["CCW-ccw", "AMB-ccw", "AMB-cw", "CW-cw"], "range": ["#37479b", "#ee3229", "#000000", "#3b7d2b"]}, "legend": null}}},
      {"data": {"name": "arrowA"}, "mark": {"type": "rule", "color": "#000", "strokeWidth": 1.2, "clip": false}, "encoding": {"x2": {"field": "x2"}, "y2": {"field": "y2"}}},
      {"data": {"name": "headA"}, "mark": {"type": "point", "filled": true, "opacity": 1, "size": 100, "color": "#000", "clip": false},
       "encoding": {"shape": {"field": "d", "type": "nominal", "scale": {"domain": ["l", "r", "u", "d"], "range": ["M0,0L2,-0.7L1.4,0L2,0.7Z", "M0,0L-2,-0.7L-1.4,0L-2,0.7Z", "M0,0L-0.7,2L0,1.4L0.7,2Z", "M0,0L-0.7,-2L0,-1.4L0.7,-2Z"]}, "legend": null}}},
      {"data": {"name": "txtA"}, "mark": {"type": "text", "fontSize": 18, "align": "center", "baseline": "middle", "color": "#000", "clip": false}, "encoding": {"text": {"field": "txt"}}}
    ]
  },
  {
    "width": 340, "height": 240,
    "encoding": {
      "x": {"field": "t", "type": "quantitative", "scale": {"domain": [-500, 1000], "nice": false, "zero": false},
            "axis": {"values": [-500, -400, -300, -200, -100, 0, 100, 200, 300, 400, 500, 600, 700, 800, 900, 1000], "labelExpr": "(datum.value==0 || abs(datum.value)%200==100) ? format(datum.value,'d') : ''", "title": "时间 (ms)", "titlePadding": 8}},
      "y": {"field": "v", "type": "quantitative", "scale": {"domain": [-1, 1], "nice": false, "zero": false},
            "axis": {"values": [-1, -0.75, -0.5, -0.25, 0, 0.25, 0.5, 0.75, 1], "labelExpr": "datum.value==0 ? '0' : (abs(datum.value*4)%2==0 ? format(datum.value,'.1f') : '')", "title": "水平位置 (deg)", "titlePadding": 30, "labelOffset": -1.5}}
    },
    "layer": [
      {"data": {"name": "refB"}, "mark": {"type": "rule", "strokeDash": [1.5, 2], "color": "#5a78c0", "strokeWidth": 1}, "encoding": {"x2": {"field": "t2"}, "y2": {"field": "v2"}}},
      {"data": {"name": "seriesB"}, "mark": {"type": "line", "strokeWidth": 2.3, "strokeJoin": "round"},
       "encoding": {"color": {"field": "s", "type": "nominal", "scale": {"domain": ["CCW-ccw", "AMB-ccw", "AMB-cw", "CW-cw"], "range": ["#37479b", "#ee3229", "#000000", "#43a043"]}, "legend": null}}},
      {"data": {"name": "labB"}, "mark": {"type": "text", "fontSize": 19, "align": "left", "baseline": "middle", "clip": false},
       "encoding": {"text": {"field": "s"}, "color": {"field": "s", "type": "nominal", "scale": {"domain": ["CCW-ccw", "AMB-ccw", "AMB-cw", "CW-cw"], "range": ["#37479b", "#ee3229", "#000000", "#3b8a2f"]}, "legend": null}}},
      {"data": {"name": "arrowB"}, "mark": {"type": "rule", "color": "#444", "strokeWidth": 1.2, "clip": false}, "encoding": {"x2": {"field": "t2"}, "y2": {"field": "v2"}}},
      {"data": {"name": "headB"}, "mark": {"type": "point", "filled": true, "opacity": 1, "size": 100, "color": "#000", "clip": false},
       "encoding": {"shape": {"field": "d", "type": "nominal", "scale": {"domain": ["l", "r", "u", "d"], "range": ["M0,0L2,-0.7L1.4,0L2,0.7Z", "M0,0L-2,-0.7L-1.4,0L-2,0.7Z", "M0,0L-0.7,2L0,1.4L0.7,2Z", "M0,0L-0.7,-2L0,-1.4L0.7,-2Z"]}, "legend": null}}},
      {"data": {"name": "txtB"}, "mark": {"type": "text", "fontSize": 19, "align": "center", "baseline": "middle", "color": "#000", "clip": false}, "encoding": {"text": {"field": "txt"}}}
    ]
  }
]
}
